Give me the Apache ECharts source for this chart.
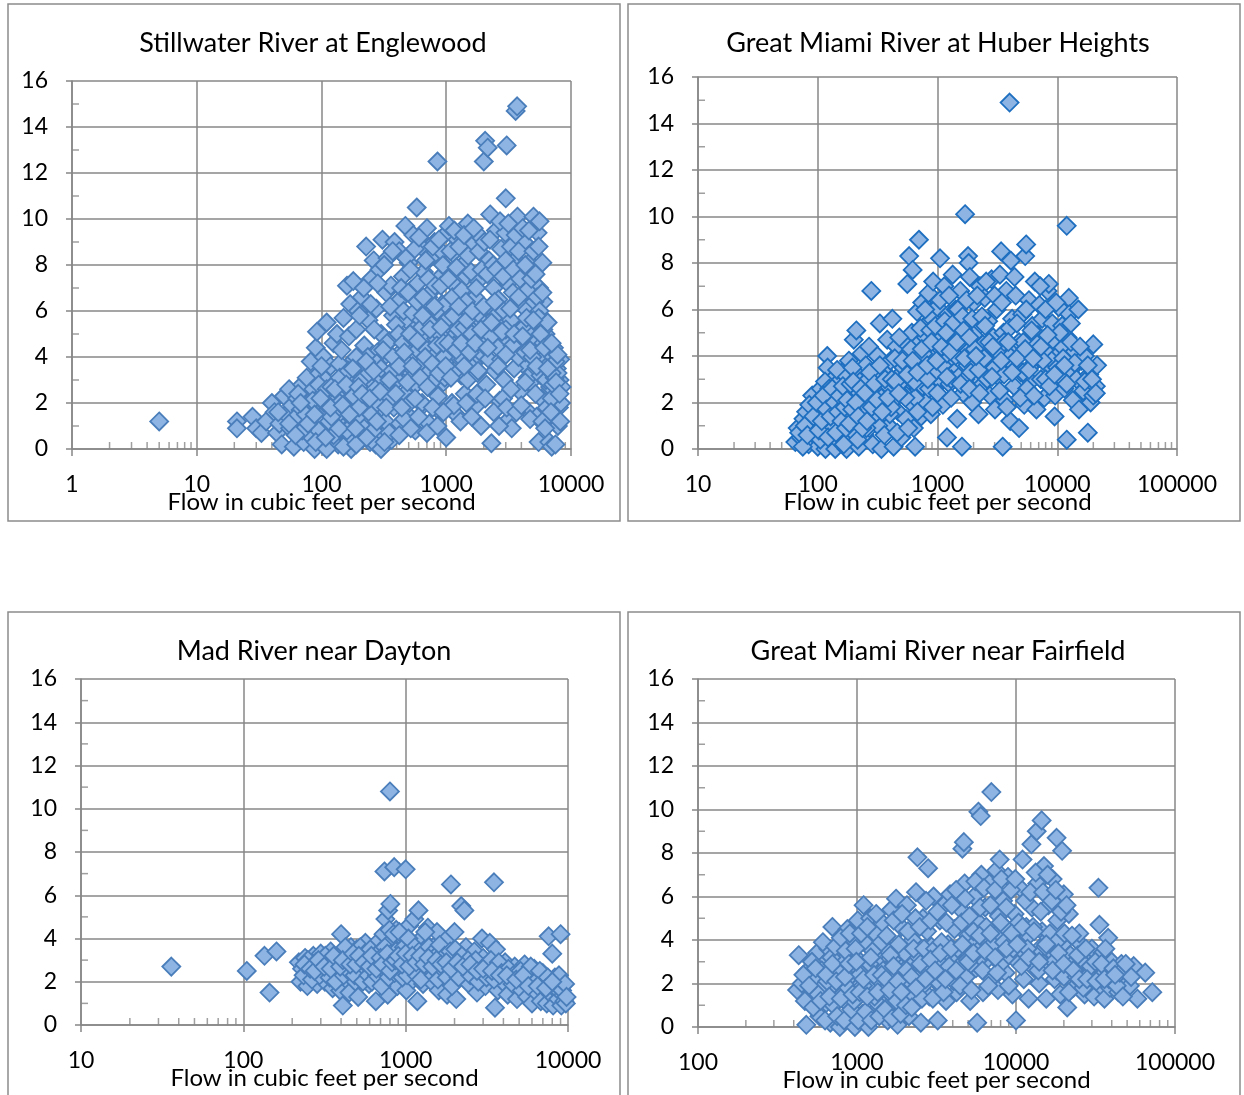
<!DOCTYPE html>
<html>
<head>
<meta charset="utf-8">
<title>Flow scatter plots</title>
<script src="https://cdn.jsdelivr.net/npm/echarts@6/dist/echarts.min.js"></script>
<style>
  html, body { margin: 0; padding: 0; background: #fff; }
  #chart { width: 1244px; height: 1095px; }
</style>
</head>
<body>
<div id="chart"></div>
<script>
// titles of the four sites
var titles = [
  'Stillwater River at Englewood',
  'Great Miami River at Huber Heights',
  'Mad River near Dayton',
  'Great Miami River near Fairfield'
]
var xName = 'Flow in cubic feet per second'

// x extents (log axis) per panel
var xMins = [1, 10, 10, 100]
var xMaxs = [10000, 100000, 10000, 100000]
var yTicks = [0, 2, 4, 6, 8, 10, 12, 14, 16]

// [flow, value]
var stillwater = [
  [5,1.2],[21,1.2],[21,0.9],[28,1.4],[30,0.9],[33,0.7],[36,1.2],
  [40,2.0],[42,1.6],[44,0.7],[46,1.1],[48,0.2],[50,2.3],[52,1.5],[55,2.6],[56,0.9],[58,1.9],[60,0.1],[62,1.3],[64,2.2],[66,0.5],[68,1.7],[70,2.8],[72,0.3],[74,1.0],
  [76,3.1],[78,2.0],[80,0.6],[82,3.8],[84,1.4],[86,2.6],[88,0.0],[90,4.4],[92,5.1],[94,1.9],[96,3.3],[98,0.4],[100,1.2],[102,2.4],[104,4.0],[106,0.1],[108,3.0],[110,5.5],[112,1.7],[115,0.8],[118,3.6],[120,2.2],
  [122,0.3],[125,4.6],[128,1.0],[130,2.9],[133,5.0],[136,0.2],[139,3.7],[142,1.5],[145,4.3],[148,2.5],[150,5.7],[153,0.7],[156,3.2],[160,7.1],[163,1.9],[166,4.9],[170,6.3],[173,0.0],[176,2.8],[180,7.3],[183,3.9],[186,1.2],[190,5.2],[193,2.1],[196,6.0],[199,0.5],
  [205,3.4],[210,6.6],[215,1.6],[220,4.5],[228,8.8],[232,2.6],[238,5.6],[245,0.3],[250,7.4],[255,3.7],[262,8.2],[268,1.4],[275,6.1],[280,4.2],[285,2.3],[292,7.8],[300,5.0],[308,9.1],[315,0.6],[322,3.1],[330,6.8],[338,8.3],[345,1.9],[352,4.7],[360,7.1],[368,2.8],[375,5.8],[385,9.0],[392,3.5],[400,0.9],
  [410,6.4],[420,8.6],[430,2.2],[440,4.9],[450,7.5],[460,3.3],[470,9.7],[480,5.6],[490,1.5],[500,8.1],[510,4.1],[520,6.9],[532,2.7],[545,9.3],[555,5.2],[565,0.8],[580,10.5],[590,7.2],[600,3.8],[612,6.0],[625,8.8],[638,4.5],[650,1.9],[662,7.7],[675,5.4],[690,3.0],[700,9.6],[715,6.6],[730,1.1],[745,8.3],[760,4.8],[775,6.9],[790,2.5],[805,9.0],[820,5.9],[835,3.6],[850,12.5],[865,7.4],[880,4.2],[895,1.6],[910,8.6],[930,6.3],[950,2.9],[970,5.0],[990,7.9],
  [1010,9.4],[1030,3.9],[1050,9.7],[1070,6.2],[1090,4.7],[1110,2.0],[1130,8.5],[1150,5.5],[1180,7.1],[1200,1.5],[1230,9.1],[1260,4.3],[1290,6.7],[1320,3.2],[1350,8.0],[1380,5.8],[1410,2.4],[1450,7.5],[1490,9.8],[1530,4.9],[1570,6.4],[1610,3.6],[1650,8.9],[1700,5.1],[1750,1.9],[1800,7.3],[1850,4.0],[1900,9.2],[1950,6.0],[2000,12.5],[2050,13.4],[2100,2.8],[2150,13.1],[2200,8.2],[2250,10.2],[2300,0.25],[2350,5.3],[2400,7.0],[2450,3.4],
  [2500,9.5],[2560,4.6],[2620,6.5],[2680,2.1],[2750,8.7],[2820,5.7],[2900,3.0],[2980,9.4],[3000,10.9],[3050,13.2],[3120,7.2],[3200,1.3],[3280,4.4],[3350,0.9],[3420,6.8],[3500,8.3],[3600,14.7],[3700,14.9],[3720,10.1],[3800,5.2],[3900,2.5],[4000,7.7],[4100,3.7],[4200,9.0],[4300,6.1],[4400,1.7],[4500,4.8],[4620,8.1],[4750,2.9],[4880,6.6],[5000,10.1],[5100,3.9],[5200,5.5],[5300,1.4],[5400,9.4],[5500,0.3],[5550,7.0],[5600,9.9],[5700,4.2],[5800,2.2],[5900,8.1],[6000,6.4],[6100,3.4],[6250,5.0],[6400,1.8],[6550,4.5],[6700,0.3],[6800,2.7],[6950,3.8],[7000,0.1],[7100,1.3],[7300,4.4],[7500,0.2],[7600,2.3],[7700,3.5],[7850,1.0],[8000,1.8],[8100,3.0],[8200,3.9],[8300,2.0],
  [95,0.8],[105,2.0],[115,1.2],[125,0.6],[135,2.3],[145,1.0],[155,2.0],[165,0.4],[175,1.6],[185,2.5],[195,1.3],[210,0.4],[225,2.0],[240,1.1],[258,2.9],[272,0.2],[290,1.7],[305,3.0],[325,1.2],[340,2.6],[365,0.4],[380,1.8],[405,3.0],[425,1.1],[445,3.6],[465,2.4],[485,4.4],[505,2.0],[525,3.3],[550,4.1],[570,2.8],[595,5.1],[615,3.6],[640,2.0],[660,4.4],[680,3.2],[710,5.0],[740,3.4],[770,4.1],[800,3.0],[830,4.8],[860,2.3],[890,5.6],[920,3.7],[945,4.4],[975,3.1],
  [1020,5.2],[1060,4.0],[1100,6.1],[1140,3.3],[1190,5.0],[1240,4.0],[1300,5.6],[1360,3.9],[1420,4.6],[1480,3.0],[1550,5.4],[1620,4.3],[1700,6.6],[1780,3.3],[1870,5.6],[1960,4.1],[2080,5.0],[2200,3.9],[2320,6.1],[2450,4.9],[2600,5.9],[2750,3.9],[2900,6.0],[3100,4.6],[3300,5.6],[3500,3.5],[3700,6.4],[3950,4.5],[4200,5.3],[4500,3.1],[4800,4.9],[5100,6.4],[5400,4.7],[5700,3.2],[6000,5.2],[6300,3.0],[6600,4.0],[7000,2.2],[7400,3.1],[7900,2.6],
  [60,1.3],[70,0.8],[80,1.7],[90,0.3],[110,0.0],[130,1.4],[150,0.1],[170,1.0],[190,0.2],[220,0.9],[260,0.8],[300,0.0],[350,0.7],
  [202,5.8],[218,7.0],[235,4.0],[248,6.3],[265,5.2],[282,7.2],[298,3.9],[318,8.0],[335,4.6],[355,6.2],[372,8.6],[395,5.4],
  [415,5.0],[435,7.0],[455,6.0],[475,8.3],[495,6.8],[515,7.8],[540,5.9],[560,8.7],[585,6.4],[605,9.2],[630,5.6],[655,6.6],[685,8.2],[720,7.4],[750,5.9],[780,8.8],[815,7.1],[845,6.0],[875,9.1],[905,7.1],[940,8.0],[980,6.3],
  [1040,7.4],[1080,8.6],[1120,6.6],[1160,9.5],[1210,7.9],[1270,8.8],[1330,6.9],[1390,9.3],[1440,6.4],[1500,8.4],[1580,7.7],[1660,9.6],[1740,7.0],[1830,8.6],[1920,7.8],[2020,9.0],[2130,7.6],[2240,9.1],[2380,8.0],[2520,7.8],[2700,9.9],[2850,7.5],[3000,8.2],
  [1150,1.9],[1300,1.2],[1450,2.0],[1600,1.4],[1760,2.4],[1900,1.0],[2050,2.2],[2400,1.6],[2650,1.0],[2850,2.2],[3050,1.8],[3300,2.6],[3650,1.6],[4000,1.9],[4300,2.9],[4700,1.3],[5200,2.4],[5900,1.2],[6200,0.9],[7200,2.8],[7800,3.3],[6900,1.6],[8200,1.2],[8400,2.7],
  [3150,9.8],[3300,8.8],[3450,7.8],[3600,9.3],[3800,8.6],[3900,7.4],[4100,9.6],[4300,8.0],[4450,6.9],[4600,9.5],[4800,7.4],[5000,8.6],[5200,7.6],[5350,6.6],[5500,8.8],[5600,6.0],[5800,5.6],[5900,6.8],[6000,4.6],[6200,4.0],[6400,3.6],[6700,4.6],[7000,3.3],[7200,4.0],[7500,3.8],[7800,4.1],
  [45,1.6],[55,1.1],[65,2.4],[75,1.5],[85,2.1],[95,2.8],[100,3.6],[110,2.6],[120,1.4],[140,2.0],[160,0.8],[180,2.3],[200,1.8],[230,0.5],[250,1.5],[280,2.0],[320,0.3],[360,2.2],[420,0.6],[460,1.3],[520,0.9],[600,1.4],[700,0.7],[780,1.8],[850,1.0],[950,1.6],[1000,0.5],
  [120,2.7],[140,3.1],[165,3.4],[190,4.0],[210,3.0],[240,3.3],[270,2.6],[300,3.5],[330,4.1],[370,3.4],[410,4.1],[450,4.6],[490,3.7],[540,4.8],[590,4.3],[640,5.3],[700,4.3],[760,5.4],[820,4.1],[880,5.0],[960,4.0],[1050,5.7],[1150,4.5],[1250,5.2],[1400,5.3],[1600,5.0],[1800,5.9],[2000,4.5],[2300,4.9],[2600,4.4],[3000,5.2],[3400,4.5],[3800,4.0],[4300,4.2],[4900,4.0],[5500,5.7],[6500,5.5],
  [62,0.6],[68,2.0],[78,1.1],[88,1.5],[98,2.2],[108,0.5],[118,1.8],[128,2.6],[138,0.9],[148,1.9],[158,2.8],[168,1.5],[178,3.5],[188,0.9],[198,2.7],[212,2.4],[228,3.8],[244,2.2],[262,3.4],[278,1.2],[295,2.5],[312,4.3],[330,1.8],[350,3.0],[372,4.0],[395,2.4],[418,3.6],[440,1.8],[462,4.2],[488,2.9],
  [512,5.0],[538,3.6],[562,2.2],[588,4.7],[618,3.1],[648,5.8],[678,4.0],[708,2.7],[740,5.2],[772,3.7],[805,6.2],[840,4.5],[875,3.3],[910,5.3],[950,4.6],[990,3.6],[1040,4.6],[1090,3.1],[1140,5.8],[1200,4.3],[1260,6.2],[1320,4.6],[1390,3.6],[1460,5.6],[1540,4.2],[1620,6.0],[1710,4.6],[1800,3.4],[1900,5.2],
  [2000,6.2],[2150,4.4],[2300,5.5],[2450,6.4],[2600,3.6],[2800,5.1],[3000,4.1],[3250,6.1],[3500,5.0],[3800,6.6],[4100,4.9],[4400,5.7],[4700,4.3],[5000,5.6],[5300,3.6],[5700,5.0],[6100,4.4],[6500,3.5],[7000,4.6],[7600,2.9],[8100,2.4]
]

var huberHeights = [
  [65,0.3],[68,0.9],[72,0.5],[76,1.3],[80,1.6],[84,0.2],[88,1.0],[90,2.3],[93,0.6],[96,1.8],[100,0.1],[103,1.4],[106,2.6],[110,0.8],[113,1.9],[116,0.0],[120,4.0],[121,3.5],[124,1.2],[127,2.2],[130,0.4],[133,3.0],[136,1.6],[140,0.0],[143,2.5],[146,1.1],[150,2.9],[153,0.3],[156,1.8],[160,3.3],[163,0.7],[166,2.2],[170,1.3],[174,0.0],[178,2.8],[182,3.8],[186,1.6],[190,0.5],[195,2.4],
  [200,4.7],[205,1.0],[210,5.1],[215,3.2],[220,0.1],[225,1.9],[232,4.1],[238,2.7],[245,0.6],[252,3.6],[260,1.5],[268,4.4],[276,2.2],[280,6.8],[288,0.2],[296,3.0],[305,1.2],[315,4.0],[325,2.5],[330,5.4],[340,0.0],[350,3.4],[362,1.8],[375,2.9],[380,4.7],[392,1.0],[405,3.8],[420,5.6],[430,0.1],[440,2.4],[455,4.4],[470,1.6],[485,3.2],
  [500,0.5],[515,2.7],[530,4.6],[545,1.3],[560,7.1],[575,3.5],[580,8.3],[595,2.0],[610,5.0],[620,7.7],[635,0.9],[650,0.1],[660,3.9],[675,5.9],[690,2.5],[700,9.0],[715,4.6],[730,1.4],[745,6.3],[760,3.1],[780,5.3],[800,2.0],[820,4.0],[840,6.7],[860,3.4],[880,1.5],[900,5.6],[920,7.2],[945,2.6],[970,4.4],[995,6.1],
  [1020,3.0],[1050,8.2],[1080,5.1],[1110,1.9],[1140,7.0],[1170,3.7],[1200,0.5],[1230,5.8],[1260,2.8],[1300,4.6],[1340,7.5],[1380,3.3],[1420,6.0],[1460,1.3],[1500,4.1],[1550,6.8],[1600,0.1],[1640,2.4],[1700,10.1],[1720,5.3],[1780,3.6],[1800,8.3],[1820,8.0],[1860,7.4],[1900,4.5],[1950,2.0],
  [2000,6.3],[2050,3.2],[2120,5.2],[2200,1.5],[2260,7.0],[2330,4.0],[2400,2.8],[2480,6.5],[2560,3.6],[2650,5.5],[2740,2.3],[2830,7.3],[2920,4.8],[3020,1.7],[3120,6.0],[3220,3.1],[3320,7.5],[3400,8.5],[3500,0.1],[3560,5.0],[3650,2.1],[3750,6.8],[3860,3.8],[4000,14.9],[4050,1.2],[4100,8.1],[4200,5.6],[4350,2.7],[4500,6.6],[4650,4.3],[4800,0.9],[4950,3.3],
  [5100,5.8],[5300,1.9],[5400,8.3],[5500,8.8],[5600,4.6],[5800,6.4],[6000,2.9],[6200,5.3],[6400,3.7],[6500,7.2],[6700,1.7],[6900,4.9],[7100,6.2],[7300,3.0],[7500,5.6],[7800,2.2],[8000,4.2],[8300,6.8],[8500,7.1],[8800,3.5],[9100,5.4],[9500,1.4],[9600,2.3],[9900,4.0],
  [10300,6.1],[10600,3.1],[11000,4.4],[11500,2.6],[12000,9.6],[12000,0.4],[12200,4.8],[12500,6.5],[12600,5.8],[13000,3.4],[13500,2.1],[14000,4.2],[14500,3.0],[15000,6.0],[15200,1.7],[16000,3.8],[16500,2.5],[17000,4.0],[18000,0.7],[18500,3.2],[19000,2.0],[20000,4.5],[20000,2.3],[21000,2.7],[21500,3.6],
  [110,1.5],[120,0.9],[130,1.8],[140,1.3],[150,1.0],[160,2.0],[170,0.6],[180,1.4],[190,1.9],[200,0.7],[210,1.6],[230,1.2],[250,2.0],[270,0.9],[290,1.7],[320,1.0],[350,2.0],[400,1.5],[450,2.2],[500,2.9],[550,2.3],[600,3.0],[650,2.2],[700,3.6],[750,2.7],[800,4.8],[850,2.6],[900,3.9],[950,3.3],
  [1000,4.6],[1100,3.6],[1200,4.1],[1300,3.0],[1400,5.0],[1500,3.1],[1600,4.4],[1700,3.0],[1800,4.2],[1900,3.3],[2000,4.9],[2200,3.4],[2400,4.5],[2600,3.0],[2800,4.1],[3000,3.5],[3300,4.4],[3600,3.2],[4000,4.0],[4400,3.6],[4800,4.6],[5200,3.3],[5600,2.6],[6000,4.1],[7000,3.9],[8000,3.0],[9000,3.8],[10000,3.5],[11000,5.3],[13000,4.6],
  [75,0.1],[85,1.9],[95,1.1],[105,0.4],[115,2.9],[125,2.6],[135,0.9],[145,3.4],[155,2.4],[165,0.2],[175,3.1],[185,2.2],[195,3.5],[205,2.6],[215,0.4],[225,2.9],[240,1.7],[255,0.9],[265,3.0],[285,2.4],[300,1.5],[320,3.2],[340,2.2],[360,0.6],[390,2.7],[410,1.8],[440,3.9],[460,0.7],[480,4.8],
  [520,3.5],[540,2.2],[570,0.9],[600,4.3],[640,2.9],[680,1.6],[720,5.2],[760,4.1],[790,6.0],[830,3.0],[870,5.1],[910,1.8],[960,5.3],[1000,2.4],[1050,6.4],[1100,4.4],[1150,5.5],[1200,3.1],[1250,6.6],[1300,2.2],[1350,5.4],[1420,4.0],[1480,6.0],[1560,2.8],[1620,5.7],[1680,3.9],[1750,6.4],[1850,2.6],[1950,5.6],
  [2050,4.3],[2150,6.6],[2250,2.4],[2350,5.7],[2450,3.9],[2550,7.2],[2700,4.6],[2850,3.1],[3000,6.6],[3150,4.2],[3300,2.5],[3450,6.3],[3600,4.6],[3800,1.8],[4000,5.2],[4200,3.3],[4400,7.4],[4600,5.4],[4900,2.2],[5200,4.6],[5500,6.0],[5800,3.4],[6100,5.1],[6400,2.3],[6800,4.5],[7200,7.0],[7600,3.8],[8000,6.0],[8600,2.7],[9200,4.7],[9800,6.3],
  [10500,5.0],[11200,3.9],[12000,2.8],[13000,5.4],[14000,3.7],[15500,4.4],[17000,2.9],[18000,3.6],[19500,3.0],[21000,2.4],
  [70,0.7],[78,1.0],[82,0.6],[92,1.4],[98,2.0],[102,0.8],[108,1.2],[112,2.3],[118,1.7],[122,0.5],[128,1.4],[132,2.6],[138,2.0],[142,0.7],[148,1.6],[152,2.3],[158,1.2],[162,2.7],[168,1.8],[172,0.9],[176,2.1],[184,1.1],[188,2.8],[194,1.7],[198,2.9],
  [208,2.0],[218,1.4],[228,2.6],[236,0.9],[248,2.4],[258,1.2],[272,3.3],[282,1.8],[298,2.8],[312,2.1],[330,3.6],[345,1.6],[365,3.0],[385,2.2],[415,3.0],[445,2.9],[475,2.4],[510,3.8],[560,3.2],[620,3.8],[680,3.3],[740,4.3],[820,3.6],[890,4.6],[980,3.8],
  [1080,4.4],[1180,5.0],[1280,4.2],[1450,4.6],[1650,5.1],[1850,4.8],[2100,4.0],[2500,5.3],[2900,4.4],[3400,3.8],[3900,4.6],[4600,3.9],[5400,4.3],[6300,3.9],[7300,4.4],[8300,4.9],[9500,3.2],[11500,3.6]
]

var madRiver = [
  [36,2.7],[105,2.5],[135,3.2],[145,1.5],[160,3.4],
  [220,2.9],[225,2.0],[230,2.6],[240,3.1],[248,1.8],[255,2.4],[262,2.9],[270,3.2],[278,2.2],[285,1.9],[292,2.7],[300,3.3],[310,2.4],[318,2.0],[326,3.0],[335,2.6],[345,3.4],[355,1.7],[365,2.8],[375,3.1],[385,2.3],[395,1.6],
  [400,4.2],[405,2.7],[410,0.9],[420,3.3],[430,2.1],[440,2.9],[450,1.5],[460,3.6],[470,2.5],[480,3.0],[490,2.0],[500,3.5],[510,1.3],[520,2.8],[535,3.2],[550,2.3],[565,3.8],[580,2.6],[595,1.9],[610,3.0],[625,2.4],[640,3.5],[655,1.1],[670,2.8],[685,3.9],[700,2.2],[715,3.2],[730,4.2],[740,7.1],[750,4.9],[760,2.6],[775,1.4],[780,5.3],[790,3.4],[800,10.8],[805,5.6],[810,2.9],[820,3.9],[835,2.0],[850,7.3],[860,3.1],[875,4.4],[890,1.8],[905,2.7],[920,3.6],[940,2.3],[960,4.0],[980,3.0],
  [1000,7.2],[1010,1.6],[1030,3.4],[1050,4.6],[1070,2.5],[1090,3.8],[1110,2.1],[1130,4.9],[1150,3.2],[1180,1.1],[1200,5.3],[1220,2.8],[1250,4.0],[1280,1.9],[1310,3.5],[1340,2.4],[1370,4.5],[1400,3.0],[1440,2.0],[1480,3.6],[1520,2.7],[1560,4.3],[1600,1.6],[1650,3.3],[1700,2.3],[1750,3.9],[1800,1.4],[1850,2.9],[1900,6.5],[1950,2.2],
  [2000,4.3],[2050,1.2],[2100,3.1],[2200,5.5],[2250,2.5],[2300,5.3],[2350,3.6],[2450,1.9],[2550,2.8],[2650,3.4],[2750,1.5],[2850,2.4],[2950,4.0],[3000,3.1],[3100,1.8],[3200,2.7],[3300,3.8],[3400,2.2],[3500,6.6],[3550,0.8],[3600,3.5],[3700,1.6],[3800,2.6],[3950,2.0],
  [4100,2.9],[4250,1.4],[4400,2.4],[4550,1.9],[4700,2.7],[4850,1.2],[5000,2.2],[5200,1.6],[5400,2.8],[5600,1.3],[5800,2.3],[6000,1.0],[6200,2.6],[6400,1.5],[6600,2.1],[6800,1.1],[7000,2.4],[7200,1.7],[7400,1.0],[7600,4.1],[7700,2.1],[7900,1.4],[8000,3.3],[8100,0.9],[8300,2.2],[8500,1.6],[8700,1.2],[8900,1.9],[9000,4.2],[9100,0.9],[9300,1.4],[9500,1.1],[9700,1.0],
  [330,2.8],[380,2.6],[430,2.9],[480,2.6],[530,2.7],[580,3.1],[630,2.9],[680,2.5],[730,3.0],[780,2.7],[830,3.1],[880,2.6],[930,3.0],[990,2.7],[1060,3.0],[1120,2.8],[1190,3.1],[1260,2.6],[1330,3.0],[1420,2.6],[1500,2.9],[1600,2.6],[1720,2.8],[1850,2.5],[2000,2.7],[2150,2.4],[2350,2.6],[2600,2.3],[2900,2.5],[3200,2.3],
  [235,2.3],[250,3.0],[265,2.1],[280,2.9],[295,2.3],[305,2.8],[320,3.2],[340,2.2],[350,3.0],[370,2.0],[390,3.2],[415,2.3],[425,3.6],[445,2.5],[465,3.1],[485,2.3],[505,2.9],[525,3.6],[545,2.0],[560,3.3],[590,2.3],[605,3.5],[620,2.0],[650,3.2],[665,2.3],[695,3.4],[710,1.8],[725,2.6],[745,3.6],[765,3.1],[785,2.2],[795,4.4],[815,3.3],[840,4.2],[855,2.4],[870,3.4],[895,2.9],[915,4.3],[935,3.3],[955,2.2],[975,3.6],
  [1020,2.3],[1040,4.0],[1080,3.3],[1100,2.6],[1140,3.6],[1170,2.3],[1210,3.4],[1240,2.1],[1290,3.3],[1320,4.3],[1360,2.7],[1390,3.6],[1450,3.3],[1490,2.3],[1540,3.2],[1580,2.1],[1620,3.7],[1680,2.6],[1740,3.2],[1790,2.2],[1880,3.4],[1930,1.8],[2020,3.5],[2120,2.2],[2220,3.2],[2420,3.0],[2500,2.3],[2700,3.0],[2800,2.0],[3050,2.7],[3150,2.2],[3350,3.0],[3500,2.1],[3750,2.9],[3900,2.4],
  [4300,2.6],[4600,2.3],[5100,2.5],[5500,2.0],[5900,2.7],[6300,2.0],[6700,2.5],[7100,1.9],[7500,2.2],[8200,1.8],[8800,2.3],[9200,1.6],[9600,1.9],[9800,1.3],
  [238,2.8],[258,2.6],[275,2.5],[290,3.0],[315,2.7],[345,2.6],[360,3.2],[395,2.7],[410,3.0],[455,2.8],[475,3.3],[495,2.8],[515,3.2],[555,2.9],[600,2.7],[615,3.2],[660,2.6],[700,3.1],[720,2.8],[770,3.3],[800,2.5],[825,2.9],[865,3.0],[900,3.2],[950,2.8],
  [1000,3.3],[1050,2.7],[1100,3.2],[1160,2.9],[1230,3.2],[1300,2.8],[1380,3.1],[1460,2.7],[1550,3.0],[1650,2.8],[1780,2.9],[1900,2.6],[2080,2.9],[2250,2.7],[2500,2.8],[2750,2.5],[3000,2.6],[3400,2.5],[3800,2.3],[4200,2.3],[4800,2.1],[5300,2.3],[5700,1.8],[6500,1.8],[7300,1.7],[8000,2.0]
]

var fairfield = [
  [420,1.7],[430,3.3],[450,2.0],[480,0.1],[490,2.6],[510,1.4],[540,2.2],[560,3.4],[580,0.5],[600,1.8],[620,2.9],[640,1.1],[660,3.6],[680,0.2],[700,4.6],[720,2.4],[740,1.5],[760,3.1],[780,0.0],[800,2.0],[820,3.8],[840,1.2],[860,2.7],[870,4.5],[890,0.4],[910,3.3],[930,1.8],[950,4.0],[970,0.0],[990,2.5],
  [1010,4.9],[1030,1.4],[1050,3.0],[1080,0.6],[1100,5.6],[1120,2.2],[1150,3.8],[1180,0.0],[1210,5.0],[1240,1.7],[1270,2.9],[1300,4.3],[1330,0.8],[1360,3.4],[1400,2.0],[1440,4.8],[1480,1.2],[1520,3.6],[1560,0.3],[1600,2.5],[1640,5.4],[1680,1.6],[1720,3.0],[1760,5.9],[1800,0.1],[1850,2.2],[1900,4.6],[1950,1.3],
  [2000,3.4],[2060,5.6],[2120,0.5],[2180,2.8],[2240,4.0],[2300,1.7],[2350,6.2],[2400,7.8],[2450,3.2],[2520,0.2],[2600,5.0],[2680,2.4],[2760,4.4],[2800,7.3],[2850,1.4],[2940,3.7],[3030,6.0],[3120,2.1],[3220,0.3],[3320,4.9],[3420,2.9],[3520,5.6],[3630,1.2],[3740,3.8],[3850,6.1],[3970,2.5],
  [4100,4.5],[4230,1.6],[4360,3.3],[4500,5.4],[4600,8.2],[4700,8.5],[4750,6.6],[4850,2.3],[5000,4.2],[5150,1.2],[5300,3.6],[5450,6.0],[5600,2.7],[5700,0.2],[5800,9.9],[5850,4.8],[6000,9.7],[6050,7.0],[6200,1.6],[6400,5.5],[6600,3.1],[6800,6.6],[7000,10.8],[7050,2.2],[7250,4.4],[7500,7.2],[7700,1.7],[7900,7.7],[8000,3.4],[8300,5.8],[8600,2.5],[8900,6.9],[9200,4.1],[9500,1.5],[9800,5.2],
  [10000,0.3],[10200,3.0],[10600,6.4],[11000,7.7],[11200,2.2],[11600,4.6],[12000,1.3],[12500,8.4],[12600,5.5],[13000,3.3],[13500,9.0],[13600,6.6],[14000,2.0],[14500,9.5],[14600,4.4],[15000,7.4],[15500,1.3],[16000,5.6],[16500,3.0],[17000,6.8],[17500,2.2],[18000,8.7],[18200,4.9],[19000,1.5],[19500,8.1],[19600,3.8],
  [20000,6.1],[20500,2.6],[21000,0.9],[21500,5.2],[22000,3.3],[23000,1.8],[24000,4.0],[25000,4.3],[26000,2.4],[27000,1.5],[28000,3.1],[29000,2.0],[30000,3.6],[31000,1.4],[32000,2.7],[33000,6.4],[33500,4.7],[34000,1.9],[35000,3.4],[36000,1.3],[37000,2.6],[38000,4.1],[39000,1.8],[40000,3.0],[42000,2.1],[44000,1.6],[46000,2.9],[48000,2.2],[50000,2.6],[52000,1.9],[55000,2.8],[58000,1.3],[65000,2.5],[72000,1.6],
  [600,2.6],[700,1.9],[800,3.0],[900,2.3],[1000,1.8],[1100,2.7],[1200,2.0],[1300,1.2],[1400,2.8],[1500,1.9],[1600,1.0],[1700,2.3],[1800,1.7],[1900,2.7],[2000,2.0],[2200,1.5],[2400,2.5],[2600,1.9],[2800,2.8],[3000,2.3],[3300,3.0],[3600,2.6],[4000,3.2],[4400,2.8],[4800,3.5],[5200,2.9],[5600,3.9],[6000,3.2],[6500,4.0],[7000,3.6],[7500,4.3],[8000,2.9],[8500,4.6],[9000,3.3],
  [10000,4.0],[11000,3.5],[12000,4.2],[13000,2.7],[14000,3.6],[15000,2.9],[16000,4.1],[17000,3.4],[18000,2.6],[19000,3.0],[20000,2.3],[22000,2.8],[24000,2.3],[26000,3.0],[28000,2.5],[30000,2.2],[35000,2.4],[40000,2.3],
  [460,2.4],[470,1.2],[520,3.0],[530,0.9],[570,1.5],[610,3.9],[630,0.3],[650,2.1],[690,3.2],[710,1.0],[730,3.7],[750,0.5],[770,2.5],[790,4.1],[810,1.5],[830,0.3],[850,3.5],[880,1.8],[900,4.3],[920,0.8],[940,2.9],[960,1.2],[980,3.6],
  [1020,0.3],[1040,2.4],[1060,4.3],[1090,1.9],[1130,0.7],[1160,4.6],[1200,2.9],[1230,0.3],[1260,3.5],[1290,1.4],[1320,5.2],[1350,2.2],[1380,0.5],[1420,3.9],[1460,2.6],[1500,0.8],[1540,4.2],[1580,1.6],[1620,3.3],[1660,0.4],[1700,4.9],[1740,2.0],[1780,1.2],[1830,3.8],[1880,0.6],[1920,5.2],[1980,2.6],
  [2030,1.0],[2090,4.4],[2150,2.1],[2210,0.9],[2270,3.6],[2330,5.0],[2380,2.2],[2480,4.6],[2560,1.3],[2640,3.6],[2720,5.8],[2820,2.6],[2900,4.9],[3000,1.3],[3100,3.6],[3200,5.3],[3300,2.0],[3400,3.9],[3500,1.6],[3650,4.8],[3800,2.8],[3950,5.6],
  [4050,2.1],[4200,6.3],[4300,3.6],[4450,1.9],[4550,4.8],[4800,5.9],[4950,3.1],[5100,5.1],[5250,1.7],[5400,4.4],[5550,6.7],[5750,3.5],[5950,5.5],[6150,2.6],[6300,6.4],[6500,4.6],[6700,1.9],[6900,5.6],[7100,3.8],[7400,6.3],[7600,2.5],[7800,5.1],[8100,6.8],[8400,3.9],[8700,5.5],[9000,1.9],[9300,6.3],[9600,3.6],[9900,6.8],
  [10400,4.8],[10800,2.8],[11400,5.8],[11800,3.6],[12300,6.2],[12800,4.6],[13300,7.1],[13800,2.6],[14300,5.3],[14800,6.2],[15300,3.7],[15800,7.0],[16300,4.3],[16800,5.8],[17300,3.0],[17800,6.3],[18500,4.0],[19200,5.3],
  [20200,4.3],[20800,5.6],[21500,1.6],[22500,4.2],[23500,2.6],[24500,3.3],[26500,1.8],[27500,3.6],[29500,2.8],[31500,3.0],[34500,2.9],[36500,3.6],[38500,2.2],[41000,2.7],[43000,1.9],[45000,2.5],[47000,1.4],[49000,2.9],[53000,2.3],
  [500,1.9],[550,2.7],[590,1.2],[640,2.4],[670,1.4],[700,2.9],[740,2.1],[790,1.3],[840,2.3],[890,2.9],[940,1.5],[990,3.0],[1040,1.6],[1100,2.2],[1160,1.4],[1220,3.2],[1280,2.4],[1350,1.6],[1430,2.4],[1520,2.2],[1600,1.7],[1700,2.8],[1800,2.1],[1900,1.6],
  [2050,2.6],[2200,2.3],[2350,1.8],[2500,2.9],[2700,2.2],[2900,3.1],[3100,2.6],[3350,3.4],[3600,2.2],[3900,3.6],[4200,2.6],[4600,3.8],[5000,3.0],[5400,3.4],[5900,4.2],[6400,3.5],[6900,4.3],[7400,3.2],[8000,4.8],[8700,3.6],[9400,4.3],
  [10200,3.8],[11000,4.6],[12000,3.2],[13000,4.4],[14000,3.0],[15500,3.8],[17000,2.6],[18500,3.4],[20000,2.9],[23000,2.6],[25000,2.2],[28000,2.2],[32000,2.1],[36000,2.2],[42000,2.4]
]

var panelData = [stillwater, huberHeights, madRiver, fairfield]
var edgeColors = ['#4A7EBB', '#1F6FC0', '#4A7EBB', '#4A7EBB']

// plot boxes and outer frames, pixel layout of the sheet
var grids = [
  { left: 72, top: 81, width: 499, height: 368 },
  { left: 698, top: 77, width: 479, height: 372 },
  { left: 81, top: 679, width: 487, height: 346 },
  { left: 698, top: 679, width: 477, height: 348 }
]
var frames = [[8, 4], [628, 4], [8, 612], [628, 612]]
var titlePos = [[313, 43], [938, 43], [314, 651], [938, 651]]

var FONT = 'Lato, "Open Sans", sans-serif'
var GRAY = '#878787'

// minor tick marks on the log axis (2..9 within each decade)
function minorX(min, max) {
  var out = []
  for (var d = min; d < max; d *= 10) {
    for (var k = 2; k <= 9; k++) out.push([d * k, 0])
  }
  return out
}
function minorY(xmin) {
  var out = []
  for (var v = 1; v < 16; v += 2) out.push([xmin, v])
  return out
}

var option = {
  animation: false,
  backgroundColor: '#fff',
  grid: grids,
  xAxis: [],
  yAxis: [],
  series: [],
  graphic: []
}

for (var i = 0; i < 4; i++) {
  option.xAxis.push({
    type: 'log',
    logBase: 10,
    gridIndex: i,
    min: xMins[i],
    max: xMaxs[i],
    name: xName,
    nameLocation: 'middle',
    nameGap: 41,
    nameMoveOverlap: false, // the name overlaps the tick labels a bit in the original
    nameTextStyle: { fontFamily: FONT, fontSize: 24, color: '#000' },
    axisLine: { show: true, onZero: true, lineStyle: { color: GRAY, width: 1.5 } },
    axisTick: { show: true, length: 7, lineStyle: { color: GRAY, width: 1.5 } },
    axisLabel: {
      fontFamily: FONT, fontSize: 23, color: '#000', margin: 24,
      formatter: function (v) { return String(Math.round(v)) }
    },
    splitLine: { show: true, lineStyle: { color: GRAY, width: 1.5 } }
  })
  option.yAxis.push({
    type: 'value',
    gridIndex: i,
    min: 0,
    max: 16,
    interval: 2,
    axisLine: { show: true, lineStyle: { color: GRAY, width: 1.5 } },
    axisTick: { show: true, length: 6, lineStyle: { color: GRAY, width: 1.5 } },
    axisLabel: {
      fontFamily: FONT, fontSize: 23, color: '#000', margin: 24,
      formatter: function (v) { return yTicks.indexOf(v) >= 0 ? String(v) : '' }
    },
    splitLine: { show: true, lineStyle: { color: GRAY, width: 1.5 } }
  })

  // minor ticks, drawn inside the plot like the original
  option.series.push({
    type: 'scatter', xAxisIndex: i, yAxisIndex: i, silent: true, z: 1,
    symbol: 'rect', symbolSize: [1.5, 7], symbolOffset: [0, -3.5],
    itemStyle: { color: GRAY },
    data: minorX(xMins[i], xMaxs[i])
  })
  option.series.push({
    type: 'scatter', xAxisIndex: i, yAxisIndex: i, silent: true, z: 1,
    symbol: 'rect', symbolSize: [7, 1.5], symbolOffset: [3.5, 0],
    itemStyle: { color: GRAY },
    data: minorY(xMins[i])
  })

  option.series.push({
    name: titles[i],
    type: 'scatter',
    xAxisIndex: i,
    yAxisIndex: i,
    z: 3,
    symbol: 'diamond',
    symbolSize: 18,
    itemStyle: { color: '#8DB4E3', borderColor: edgeColors[i], borderWidth: 1.8, opacity: 1 },
    data: panelData[i]
  })

  option.graphic.push({
    type: 'rect',
    silent: true,
    z: -1,
    shape: { x: frames[i][0], y: frames[i][1], width: 612, height: i < 2 ? 517 : 520 },
    style: { fill: 'none', stroke: '#8c8c8c', lineWidth: 1.5 }
  })
  option.graphic.push({
    type: 'text',
    silent: true,
    x: titlePos[i][0],
    y: titlePos[i][1],
    style: {
      text: titles[i],
      fontFamily: FONT, fontSize: 27, fill: '#000',
      align: 'center', verticalAlign: 'middle'
    }
  })
}

var chart = echarts.init(document.getElementById('chart'))
chart.setOption(option)
</script>
</body>
</html>
